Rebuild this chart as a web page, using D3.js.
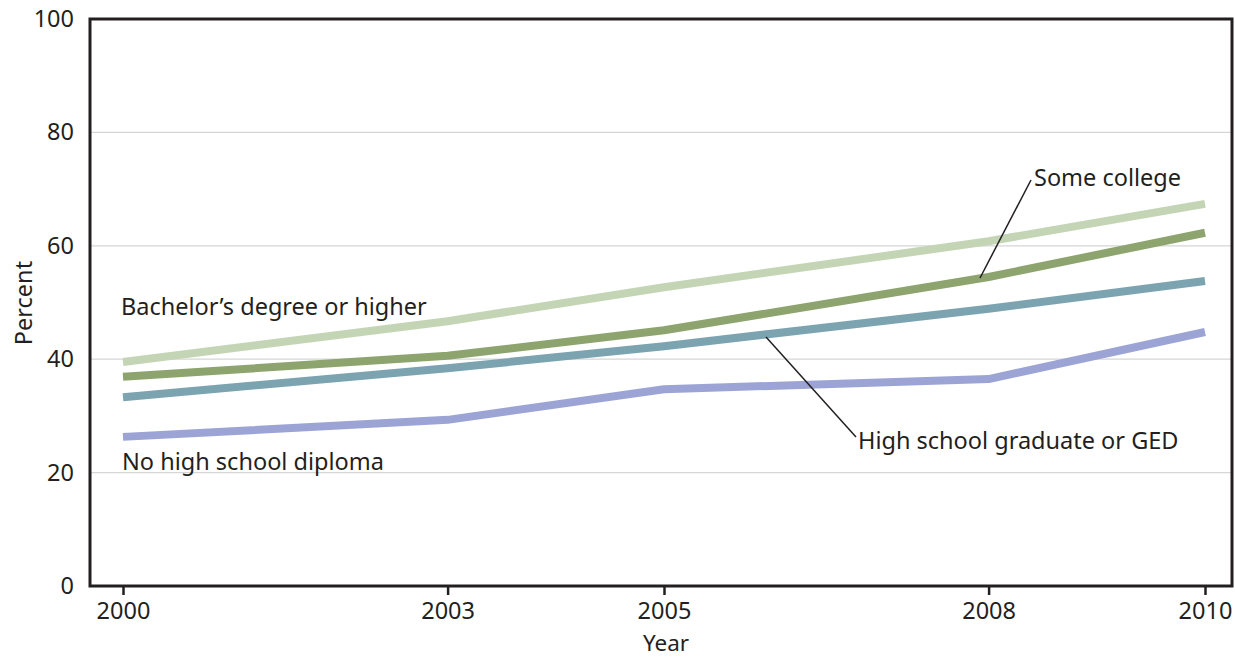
<!DOCTYPE html>
<html>
<head>
<meta charset="utf-8">
<script src="https://cdn.jsdelivr.net/npm/d3@7"></script>
<style>
  body { margin: 0; background: #fff; }
  text { font-family: "Noto Sans", "Open Sans", sans-serif; fill: #231f20; }
</style>
</head>
<body>
<div id="chart"></div>
<script>
// data
var years = [2000, 2003, 2005, 2008, 2010];
var bachelors = [39.5, 46.7, 52.7, 60.8, 67.4];
var someCollege = [36.9, 40.6, 45.1, 54.5, 62.3];
var hsGrad = [33.3, 38.4, 42.3, 48.9, 53.8];
var noDiploma = [26.3, 29.3, 34.7, 36.5, 44.8];
var yTicks = [0, 20, 40, 60, 80, 100];

var width = 1235, height = 660;
var margin = {top: 19, right: 2, bottom: 74, left: 90};
var fontSize = "23.5px";

var svg = d3.select("#chart").append("svg")
    .attr("width", width)
    .attr("height", height);

var x = d3.scaleLinear()
    .domain([2000, 2010])
    .range([123, 1205]);

var y = d3.scaleLinear()
    .domain([0, 100])
    .range([height - margin.bottom, margin.top]);

// gridlines
svg.append("g")
    .selectAll("line")
    .data(yTicks.filter(function(d) { return d > 0 && d < 100; }))
    .enter()
    .append("line")
    .attr("x1", margin.left)
    .attr("x2", width - margin.right)
    .attr("y1", function(d) { return y(d); })
    .attr("y2", function(d) { return y(d); })
    .attr("stroke", "#d6d6d6")
    .attr("stroke-width", 1.2);

// series lines
var series = [
    {name: "Bachelor's", values: bachelors, color: "#c4d5b5"},
    {name: "Some college", values: someCollege, color: "#8da46e"},
    {name: "HS grad", values: hsGrad, color: "#7ba4b0"},
    {name: "No diploma", values: noDiploma, color: "#9ca4d5"}
];

var line = d3.line()
    .x(function(d, i) { return x(years[i]); })
    .y(function(d) { return y(d); });

svg.append("g")
    .selectAll("path")
    .data(series.slice().reverse())
    .enter()
    .append("path")
    .attr("d", function(d) { return line(d.values); })
    .attr("fill", "none")
    .attr("stroke", function(d) { return d.color; })
    .attr("stroke-width", 8)
    .attr("stroke-linejoin", "round");

// frame
svg.append("rect")
    .attr("x", margin.left)
    .attr("y", margin.top)
    .attr("width", width - margin.left - margin.right - 1)
    .attr("height", height - margin.top - margin.bottom)
    .attr("fill", "none")
    .attr("stroke", "#231f20")
    .attr("stroke-width", 3);

// x axis
var xAxis = d3.axisBottom(x)
    .tickValues(years)
    .tickFormat(d3.format("d"))
    .tickSize(9)
    .tickPadding(7);
var gx = svg.append("g")
    .attr("transform", "translate(0," + (height - margin.bottom) + ")")
    .call(xAxis);
gx.select(".domain").remove();
gx.selectAll("line").attr("stroke", "#231f20").attr("stroke-width", 2.5);
gx.selectAll("text").style("font-size", fontSize).attr("fill", "#231f20");

// y axis
var yAxis = d3.axisLeft(y)
    .tickValues(yTicks)
    .tickSize(0)
    .tickPadding(16);
var gy = svg.append("g")
    .attr("transform", "translate(" + margin.left + ",0)")
    .call(yAxis);
gy.select(".domain").remove();
gy.selectAll("text").style("font-size", fontSize).attr("fill", "#231f20");

// axis titles
svg.append("text")
    .attr("x", 666)
    .attr("y", 651)
    .attr("text-anchor", "middle")
    .style("font-size", "22.5px")
    .text("Year");

svg.append("text")
    .attr("transform", "translate(32,303) rotate(-90)")
    .attr("text-anchor", "middle")
    .style("font-size", fontSize)
    .text("Percent");

// series labels
var labels = [
    {text: "Bachelor\u2019s degree or higher", x: 121, y: 315},
    {text: "No high school diploma", x: 122, y: 470},
    {text: "Some college", x: 1034, y: 186},
    {text: "High school graduate or GED", x: 858, y: 449}
];
svg.append("g")
    .selectAll("text")
    .data(labels)
    .enter()
    .append("text")
    .attr("x", function(d) { return d.x; })
    .attr("y", function(d) { return d.y; })
    .style("font-size", fontSize)
    .text(function(d) { return d.text; });

// leader lines
var leaders = [
    {x1: 980, y1: 278, x2: 1031, y2: 180},
    {x1: 766, y1: 337, x2: 856, y2: 437}
];
svg.append("g")
    .selectAll("line")
    .data(leaders)
    .enter()
    .append("line")
    .attr("x1", function(d) { return d.x1; })
    .attr("y1", function(d) { return d.y1; })
    .attr("x2", function(d) { return d.x2; })
    .attr("y2", function(d) { return d.y2; })
    .attr("stroke", "#231f20")
    .attr("stroke-width", 1.5);
</script>
</body>
</html>
